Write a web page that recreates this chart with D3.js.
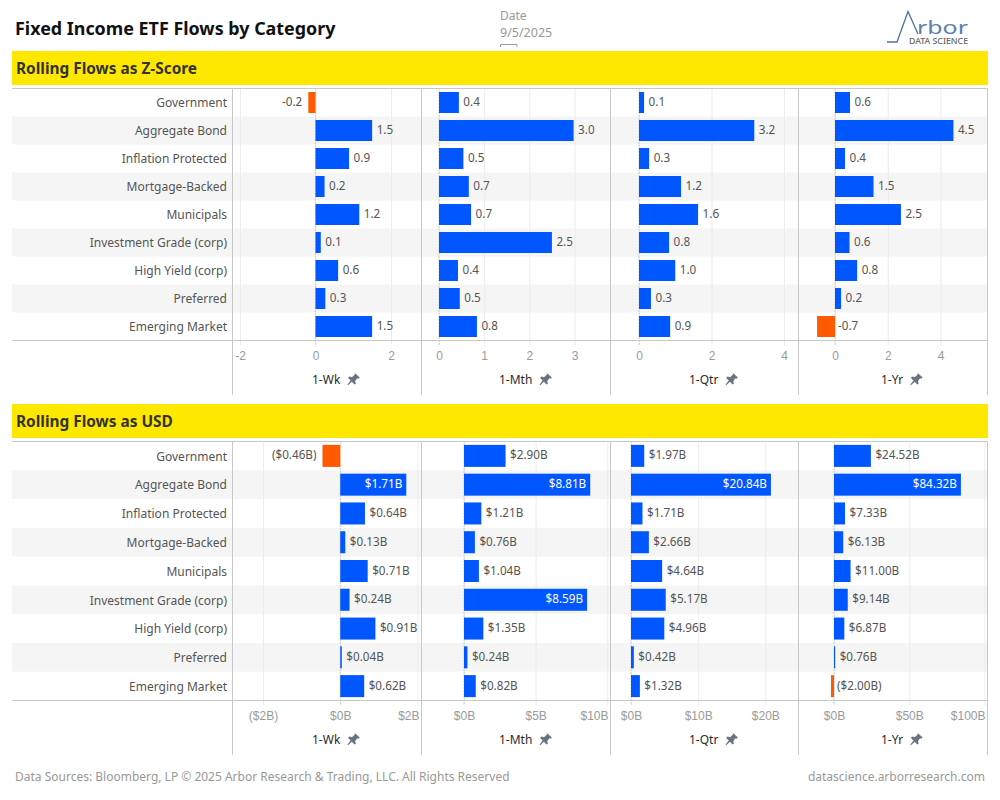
<!DOCTYPE html>
<html>
<head>
<meta charset="utf-8">
<title>Fixed Income ETF Flows by Category</title>
<style>
	body { margin: 0; background: #fff; }
	svg { display: block; font-family: "Noto Sans", sans-serif; }
	.grid line { stroke: #ececec; }
	.grid path { display: none; }
	.grid text { fill: #9a9a9a; font-size: 12px; }
	.rule { stroke: #c8c8c8; stroke-width: 1; }
	.cat { fill: #555; font-size: 12px; text-anchor: end; }
	.val { fill: #555; font-size: 11.7px; }
	.zero { stroke: #aaa; stroke-dasharray: 1 2; }
	.head { fill: #2b2b2b; font-size: 12px; }
	.band { fill: #ffe800; }
	.band-text { fill: #333; font-size: 15.4px; font-weight: 700; }
</style>
</head>
<body>
<script src="https://d3js.org/d3.v7.min.js"></script>
<script>
	const categories = ['Government', 'Aggregate Bond', 'Inflation Protected', 'Mortgage-Backed', 'Municipals',
		'Investment Grade (corp)', 'High Yield (corp)', 'Preferred', 'Emerging Market'];
	const periods = ['1-Wk', '1-Mth', '1-Qtr', '1-Yr'];

	// z-scores
	const zWk = [-0.19, 1.5, 0.89, 0.24, 1.16, 0.14, 0.6, 0.26, 1.5];
	const zMth = [0.44, 2.98, 0.54, 0.66, 0.71, 2.5, 0.42, 0.46, 0.84];
	const zQtr = [0.14, 3.18, 0.28, 1.16, 1.63, 0.83, 1.0, 0.33, 0.86];
	const zYr = [0.57, 4.49, 0.38, 1.46, 2.5, 0.55, 0.84, 0.23, -0.68];

	// USD flows in $B
	const usdWk = [-0.46, 1.71, 0.64, 0.13, 0.71, 0.24, 0.91, 0.04, 0.62];
	const usdMth = [2.90, 8.81, 1.21, 0.76, 1.04, 8.59, 1.35, 0.24, 0.82];
	const usdQtr = [1.97, 20.84, 1.71, 2.66, 4.64, 5.17, 4.96, 0.42, 1.32];
	const usdYr = [24.52, 84.32, 7.33, 6.13, 11.00, 9.14, 6.87, 0.76, -2.00];

	const zTicks = [[-2, 0, 2], [0, 1, 2, 3], [0, 2, 4], [0, 2, 4]];
	const usdTicks = [[-2, 0, 2], [0, 5, 10], [0, 10, 20], [0, 50, 100]];

	const colX = [232.5, 421.5, 610.5, 798.5, 987.5];
	const left = 12;
	const blue = '#0057ff', orange = '#ff5a00';

	const fmtZ = v => d3.format('.1f')(v).replace('−', '-');
	const money = (v, dec) => {
		const s = '$' + d3.format(dec)(Math.abs(v)) + 'B';
		return v < 0 ? '(' + s + ')' : s;
	};

	const svg = d3.select('body').append('svg').attr('width', 1000).attr('height', 800);

	svg.append('text').attr('x', 15).attr('y', 35)
		.attr('fill', '#111').style('font-size', '17.9px').style('font-weight', 700)
		.text('Fixed Income ETF Flows by Category');

	// date filter
	svg.append('text').attr('x', 500).attr('y', 20).attr('fill', '#999').style('font-size', '12px').text('Date');
	svg.append('text').attr('x', 500).attr('y', 37).attr('fill', '#999').style('font-size', '12.5px').text('9/5/2025');
	svg.append('path').attr('d', 'M500.5,47V44.5H517V47').attr('fill', 'none').attr('stroke', '#999');

	// logo
	svg.append('path').attr('d', 'M887,42H897L908,11.5L918,34').attr('fill', 'none').attr('stroke', '#4a72a3').attr('stroke-width', 1.3);
	svg.append('text').attr('x', 917).attr('y', 33.5).attr('fill', '#5a80ad')
		.style('font-size', '18px').attr('textLength', 51).attr('lengthAdjust', 'spacingAndGlyphs').text('rbor');
	svg.append('text').attr('x', 909).attr('y', 43.5).attr('fill', '#666')
		.style('font-size', '8.3px').style('font-weight', 500).attr('textLength', 59).attr('lengthAdjust', 'spacingAndGlyphs').text('DATA SCIENCE');

	function panel(o) {
		const g = svg.append('g');
		g.append('rect').attr('class', 'band').attr('x', left).attr('y', o.bandTop).attr('width', 976).attr('height', 34);
		g.append('text').attr('class', 'band-text').attr('x', 16).attr('y', o.bandTop + 23).text(o.title);

		const y = d3.scaleBand().domain(categories).range([o.top, o.bottom]);

		g.selectAll('.stripe').data(categories.filter((d, i) => i % 2 == 1)).enter().append('rect')
			.attr('x', left).attr('width', colX[4] - left)
			.attr('y', d => y(d)).attr('height', y.bandwidth())
			.attr('fill', '#f5f5f5');

		o.series.forEach((vals, c) => {
			const x = d3.scaleLinear().domain(o.domains[c]).range(o.ranges[c]);

			// axis ticks double as the light gridlines
			const axis = g.append('g').attr('class', 'grid')
				.attr('transform', `translate(0,${o.bottom})`)
				.call(d3.axisBottom(x).tickValues(o.ticks[c]).tickSize(5).tickPadding(6).tickFormat(o.tickFmt));
			// labels that would run over the column edge get pulled back inside
			axis.selectAll('.tick text').each(function (d) {
				const w = this.getComputedTextLength();
				const over = x(d) + w / 2 - (colX[c + 1] - 2.5);
				if (over > 0) d3.select(this).attr('x', -over);
			});
			g.append('g').attr('class', 'grid')
				.attr('transform', `translate(0,${o.top})`)
				.call(d3.axisBottom(x).tickValues(o.ticks[c]).tickSize(o.bottom - o.top).tickFormat(''));

			g.append('line').attr('class', 'zero')
				.attr('x1', x(0)).attr('x2', x(0)).attr('y1', o.top).attr('y2', o.bottom + 5);

			g.selectAll('.bar' + c).data(vals).enter().append('rect')
				.attr('x', d => Math.min(x(0), x(d)))
				.attr('width', d => Math.abs(x(d) - x(0)))
				.attr('y', (d, i) => y(categories[i]) + (y.bandwidth() - o.barH) / 2)
				.attr('height', o.barH)
				.attr('fill', d => d < 0 ? orange : blue);

			g.selectAll('.val' + c).data(vals).enter().append('text')
				.attr('class', 'val')
				.attr('y', (d, i) => y(categories[i]) + y.bandwidth() / 2)
				.attr('dy', '0.3em')
				.text(d => o.valFmt(d))
				.each(function (d) {
					const w = this.getComputedTextLength();
					const t = d3.select(this);
					if (d < 0 && x(d) - 6 - w < colX[c]) {
						// no room on the left, sits right of the zero line
						t.attr('x', x(0) + 3);
					} else if (d < 0) {
						t.attr('x', x(d) - 6).attr('text-anchor', 'end');
					} else if (x(d) + 4.5 + w > colX[c + 1]) {
						// no room to the right of the bar
						t.attr('x', x(d) - 4).attr('text-anchor', 'end').style('fill', '#fff');
					} else {
						t.attr('x', x(d) + 4.5);
					}
				});

			// column header with pin
			const head = g.append('text').attr('class', 'head').attr('x', o.headX[c]).attr('y', o.headY).text(periods[c]);
			const hw = head.node().getComputedTextLength();
			g.append('path')
				.attr('transform', `translate(${o.headX[c] + hw + 7},${o.headY - 11})`)
				.attr('d', 'M7.5,0L12.5,4.6L11.2,5.8L10,5.2L7.8,8.2L8.6,10.6L7.2,11.6L4.6,8.8L0.8,12.2L0.2,11.6L3.4,7.6L0.8,5L2,3.6L4.6,4.2L7.4,1.8Z')
				.attr('fill', '#6b7280');
		});

		g.selectAll('.cat').data(categories).enter().append('text')
			.attr('class', 'cat').attr('x', 227)
			.attr('y', d => y(d) + y.bandwidth() / 2).attr('dy', '0.4em').text(d => d);

		[o.top, o.bottom].forEach(v => {
			g.append('line').attr('class', 'rule').attr('x1', left).attr('x2', colX[4]).attr('y1', v).attr('y2', v);
		});
		colX.forEach(v => {
			g.append('line').attr('class', 'rule').attr('x1', v).attr('x2', v).attr('y1', o.top).attr('y2', o.sepEnd);
		});
	}

	panel({
		title: 'Rolling Flows as Z-Score', bandTop: 51, top: 88.5, bottom: 340.5, sepEnd: 395, barH: 21, headY: 384,
		series: [zWk, zMth, zQtr, zYr], ticks: zTicks,
		domains: [[-2, 2], [0, 3], [0, 4], [0, 4]],
		ranges: [[240, 391], [439, 574.5], [639, 784], [835, 940.5]],
		headX: [312, 499, 689, 881],
		tickFmt: v => d3.format('d')(v).replace('−', '-'), valFmt: fmtZ
	});

	panel({
		title: 'Rolling Flows as USD', bandTop: 404, top: 441.5, bottom: 700.5, sepEnd: 755, barH: 22, headY: 744,
		series: [usdWk, usdMth, usdQtr, usdYr], ticks: usdTicks,
		domains: [[-2, 2], [0, 10], [0, 20], [0, 100]],
		ranges: [[263, 417.5], [464, 607.3], [631, 765.3], [834, 984.5]],
		headX: [312, 499, 689, 881],
		tickFmt: v => money(v, 'd'), valFmt: v => money(v, '.2f')
	});

	svg.append('text').attr('x', 15).attr('y', 781).attr('fill', '#999').style('font-size', '12px')
		.text('Data Sources: Bloomberg, LP © 2025 Arbor Research & Trading, LLC. All Rights Reserved');
	svg.append('text').attr('x', 985).attr('y', 781).attr('fill', '#999').attr('text-anchor', 'end').style('font-size', '12px')
		.text('datascience.arborresearch.com');
</script>
</body>
</html>
